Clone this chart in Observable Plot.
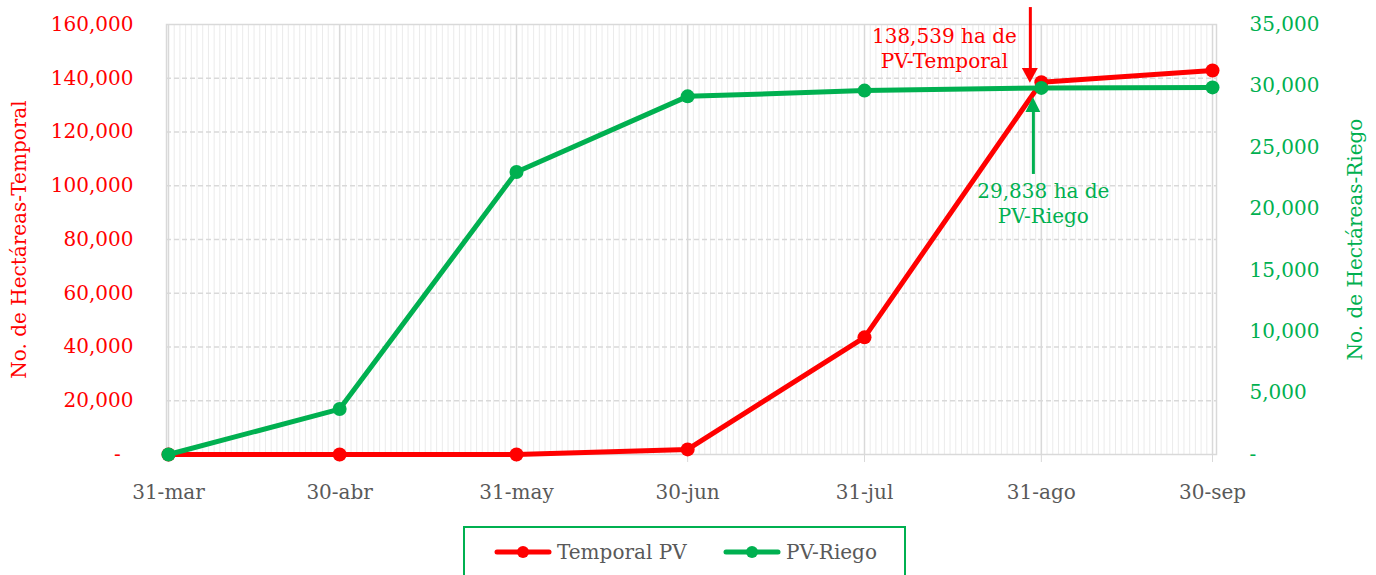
<!DOCTYPE html>
<html><head><meta charset="utf-8">
<script src="https://cdn.jsdelivr.net/npm/d3@7"></script>
<script src="https://cdn.jsdelivr.net/npm/@observablehq/plot@0.6"></script>
<style>
body{margin:0;background:#fff;font-family:"DejaVu Serif",serif;}
#wrap{position:relative;width:1376px;height:575px;overflow:hidden;}
#legend{position:absolute;left:463px;top:526px;width:443px;height:62px;border:2px solid #00B050;box-sizing:border-box;}
.item{position:absolute;top:10px;height:28px;display:flex;align-items:center;color:#595959;font-size:20px;white-space:nowrap;}
.item svg{margin-right:5px;}
</style></head>
<body><div id="wrap"><div id="chart"></div>
<div id="legend">
 <div class="item" style="left:29px"><svg width="58" height="14"><line x1="3" y1="7" x2="55" y2="7" stroke="#FF0000" stroke-width="5" stroke-linecap="round"/><circle cx="29" cy="7" r="6" fill="#FF0000"/></svg>Temporal PV</div>
 <div class="item" style="left:258px"><svg width="58" height="14"><line x1="3" y1="7" x2="55" y2="7" stroke="#00B050" stroke-width="5" stroke-linecap="round"/><circle cx="29" cy="7" r="6" fill="#00B050"/></svg>PV-Riego</div>
</div></div>
<script>
const dates = ["2020-03-31","2020-04-30","2020-05-31","2020-06-30","2020-07-31","2020-08-31","2020-09-30"];
const tickLabels = ["31-mar","30-abr","31-may","30-jun","31-jul","31-ago","30-sep"];
const temporal = [0, 0, 0, 1900, 43600, 138539, 142900];
const riego = [0, 3700, 23000, 29150, 29620, 29838, 29880];
const leftTicks = [0,20000,40000,60000,80000,100000,120000,140000,160000];
const rightTicks = [0,5000,10000,15000,20000,25000,30000,35000];

const RED = "#FF0000", GREEN = "#00B050";
const DAY = 864e5;
const k = 160000 / 35000;
const dt = dates.map(d => new Date(d + "T00:00:00Z"));
const tData = dt.map((d, i) => ({date: d, v: temporal[i]}));
const rData = dt.map((d, i) => ({date: d, v: riego[i] * k}));
const labelOf = new Map(dt.map((d, i) => [+d, tickLabels[i]]));
const fmt = d3.format(",");
const days = d3.utcDay.range(dt[0], new Date(+dt[6] + DAY));

// annotations (date offsets in days from 31-ago, values on left axis)
const ago = +dt[5];
const redArrow = {x: new Date(ago - 1.93 * DAY), top: 166300, base: 143600, tip: 138100, hw: 1.4};
const greenArrow = {x: new Date(ago - 1.4 * DAY), bottom: 104200, base: 127300, tip: 132800, hw: 1.3};
const tri = a => [
  {x: new Date(+a.x - a.hw * DAY), y1: a.base, y2: a.base},
  {x: a.x, y1: a.tip, y2: a.base},
  {x: new Date(+a.x + a.hw * DAY), y1: a.base, y2: a.base}
];
const notes = [
  {x: new Date(ago - 17 * DAY), y: 151500, text: "138,539 ha de\nPV-Temporal", fill: RED},
  {x: new Date(ago + 0.35 * DAY), y: 93800, text: "29,838 ha de\nPV-Riego", fill: GREEN}
];

const chart = Plot.plot({
  width: 1376, height: 518,
  marginTop: 24, marginBottom: 64, marginLeft: 166, marginRight: 160,
  style: {fontFamily: "DejaVu Serif", fontSize: "20px", background: "#fff"},
  x: {type: "utc", domain: [new Date(+dt[0] - 0.35 * DAY), new Date(+dt[6] + 0.7 * DAY)]},
  y: {domain: [0, 160000]},
  marks: [
    Plot.ruleX(days, {stroke: "#ebebeb", strokeWidth: 1}),
    Plot.ruleY(leftTicks.slice(1, -1), {stroke: "#d9d9d9", strokeDasharray: "5,3", strokeWidth: 1.3}),
    Plot.ruleX(dt, {stroke: "#d9d9d9", strokeWidth: 1.5}),
    Plot.frame({stroke: "#d9d9d9", strokeWidth: 1.5}),
    Plot.axisX({ticks: dt, tickFormat: d => labelOf.get(+d), tickSize: 8, tickPadding: 22, stroke: "#d9d9d9", fill: "#595959", fontSize: 20, label: null}),
    Plot.axisY({anchor: "left", ticks: leftTicks, tickFormat: d => d === 0 ? "-\u00a0\u00a0" : fmt(d), tickSize: 0, tickPadding: 33, fill: RED, fontSize: 20, label: null}),
    Plot.axisY({anchor: "right", ticks: rightTicks.map(v => v * k), tickFormat: d => d === 0 ? "-" : fmt(Math.round(d / k)), tickSize: 0, tickPadding: 33, fill: GREEN, fontSize: 20, label: null}),
    Plot.text(["No. de Hectáreas-Temporal"], {frameAnchor: "left", textAnchor: "middle", dx: -147, rotate: -90, fill: RED, fontSize: 20}),
    Plot.text(["No. de Hectáreas-Riego"], {frameAnchor: "right", textAnchor: "middle", dx: 139, rotate: -90, fill: GREEN, fontSize: 20}),
    Plot.line(tData, {x: "date", y: "v", stroke: RED, strokeWidth: 5}),
    Plot.dot(tData, {x: "date", y: "v", r: 7, fill: RED}),
    Plot.line(rData, {x: "date", y: "v", stroke: GREEN, strokeWidth: 5}),
    Plot.dot(rData, {x: "date", y: "v", r: 7, fill: GREEN}),
    Plot.ruleX([redArrow], {x: "x", y1: "top", y2: "base", stroke: RED, strokeWidth: 3}),
    Plot.areaY(tri(redArrow), {x: "x", y1: "y1", y2: "y2", fill: RED}),
    Plot.ruleX([greenArrow], {x: "x", y1: "bottom", y2: "base", stroke: GREEN, strokeWidth: 3}),
    Plot.areaY(tri(greenArrow), {x: "x", y1: "y1", y2: "y2", fill: GREEN}),
    Plot.text(notes, {x: "x", y: "y", text: "text", fill: "fill", fontSize: 20, lineHeight: 1.25})
  ]
});
document.getElementById("chart").appendChild(chart);
</script></body></html>
